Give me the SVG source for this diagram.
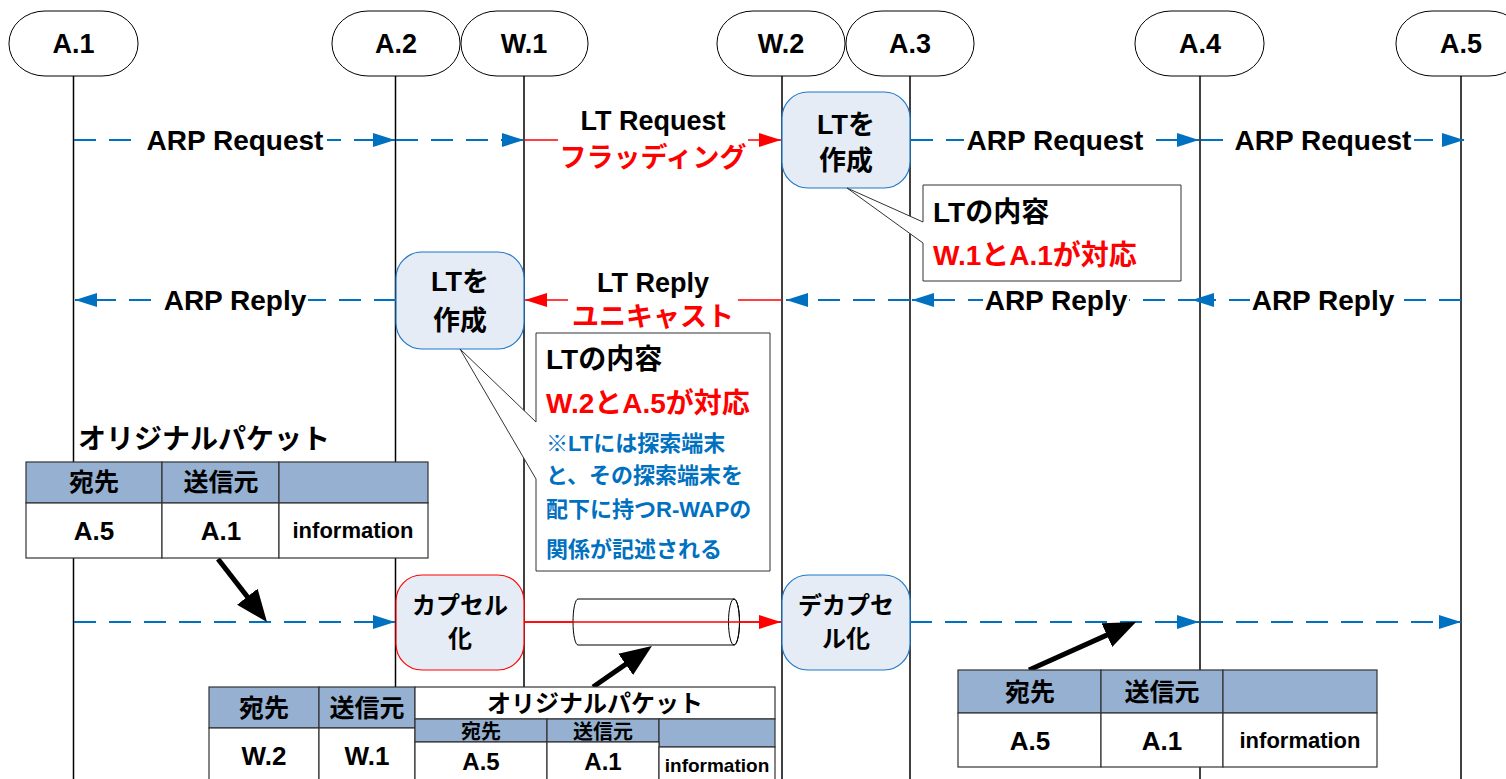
<svg xmlns="http://www.w3.org/2000/svg" width="1506" height="779" viewBox="0 0 1506 779">
<style>
.life{stroke:#000;stroke-width:1.5}
.hdr{fill:#fff;stroke:#000;stroke-width:1}
.t{font-family:'Liberation Sans','Noto Sans CJK JP',sans-serif;font-weight:bold;fill:#000}
.c{text-anchor:middle}
.bd{stroke:#0070c0;stroke-width:2;stroke-dasharray:22 13;fill:none}
.rd{stroke:#ff0000;stroke-width:1.6;fill:none}
.bk{stroke:#000;stroke-width:5;fill:none}
.bg{fill:#fff}
.lt{fill:#e5ecf6;stroke:#1f78c8;stroke-width:1.2}
.ltr{fill:#e5ecf6;stroke:#ff0000;stroke-width:1.2}
.co{fill:#fff;stroke:#333;stroke-width:1}
.th{fill:#95b0d0;stroke:#333;stroke-width:1.2}
.td{fill:#fff;stroke:#333;stroke-width:1.2}
.red{fill:#ff0000}
.blu{fill:#0070c0}
</style>
<defs>
<marker id="ab" markerUnits="userSpaceOnUse" markerWidth="22" markerHeight="14" refX="22" refY="7" orient="auto"><path d="M0,0 L22,7 L0,14 z" fill="#0070c0"/></marker>
<marker id="ar" markerUnits="userSpaceOnUse" markerWidth="22" markerHeight="14" refX="22" refY="7" orient="auto"><path d="M0,0 L22,7 L0,14 z" fill="#ff0000"/></marker>
<marker id="ak" markerUnits="userSpaceOnUse" markerWidth="32" markerHeight="26" refX="20" refY="13" orient="auto"><path d="M0,0 L32,13 L0,26 z" fill="#000"/></marker>
</defs>
<rect width="1506" height="779" fill="#fff"/>

<g id="lifelines">
<line class="life" x1="73.5" y1="76" x2="73.5" y2="779"/>
<line class="life" x1="395.5" y1="76" x2="395.5" y2="779"/>
<line class="life" x1="524" y1="76" x2="524" y2="779"/>
<line class="life" x1="782" y1="76" x2="782" y2="779"/>
<line class="life" x1="910" y1="76" x2="910" y2="779"/>
<line class="life" x1="1200" y1="76" x2="1200" y2="779"/>
<line class="life" x1="1461" y1="76" x2="1461" y2="779"/>
</g>

<g id="hdr-A1"><rect class="hdr" x="9" y="11" width="129" height="65" rx="36" ry="32"/><text class="t c" x="73.5" y="53" font-size="27">A.1</text></g>
<g id="hdr-A2"><rect class="hdr" x="332" y="11" width="128" height="65" rx="36" ry="32"/><text class="t c" x="396" y="53" font-size="27">A.2</text></g>
<g id="hdr-W1"><rect class="hdr" x="461" y="11" width="127" height="65" rx="36" ry="32"/><text class="t c" x="524" y="53" font-size="27">W.1</text></g>
<g id="hdr-W2"><rect class="hdr" x="717" y="11" width="128" height="65" rx="36" ry="32"/><text class="t c" x="781" y="53" font-size="27">W.2</text></g>
<g id="hdr-A3"><rect class="hdr" x="846" y="11" width="128" height="65" rx="36" ry="32"/><text class="t c" x="910" y="53" font-size="27">A.3</text></g>
<g id="hdr-A4"><rect class="hdr" x="1135" y="11" width="129" height="65" rx="36" ry="32"/><text class="t c" x="1200" y="53" font-size="27">A.4</text></g>
<g id="hdr-A5"><rect class="hdr" x="1396" y="11" width="129" height="65" rx="36" ry="32"/><text class="t c" x="1461" y="53" font-size="27">A.5</text></g>

<g id="connectors">
<!-- row 1 -->
<line class="bd" x1="74" y1="140" x2="395" y2="140" marker-end="url(#ab)"/>
<rect class="bg" x="143" y="125" width="184" height="32"/>
<text class="t c" x="235" y="150" font-size="28">ARP Request</text>
<line class="bd" x1="396" y1="140" x2="524" y2="140" marker-end="url(#ab)"/>
<line class="rd" x1="524" y1="140" x2="781" y2="140" marker-end="url(#ar)"/>
<rect class="bg" x="558" y="106" width="190" height="68"/>
<text class="t c" x="653" y="130" font-size="27">LT Request</text>
<text class="t c red" x="653" y="167" font-size="27">フラッディング</text>
<line class="bd" x1="911" y1="140" x2="1199" y2="140" marker-end="url(#ab)"/>
<rect class="bg" x="964" y="125" width="182" height="32"/>
<text class="t c" x="1055" y="150" font-size="28">ARP Request</text>
<line class="bd" x1="1201" y1="140" x2="1464" y2="140" marker-end="url(#ab)"/>
<rect class="bg" x="1232" y="125" width="182" height="32"/>
<text class="t c" x="1323" y="150" font-size="28">ARP Request</text>
<!-- row 2 -->
<line class="bd" x1="1461" y1="300" x2="1192" y2="300" marker-end="url(#ab)"/>
<rect class="bg" x="1250" y="284" width="146" height="32"/>
<text class="t c" x="1323" y="310" font-size="28">ARP Reply</text>
<line class="bd" x1="1200" y1="300" x2="912" y2="300" marker-end="url(#ab)"/>
<rect class="bg" x="983" y="284" width="146" height="32"/>
<text class="t c" x="1056" y="310" font-size="28">ARP Reply</text>
<line class="bd" x1="910" y1="300" x2="786" y2="300" marker-end="url(#ab)"/>
<line class="rd" x1="782" y1="300" x2="525" y2="300" marker-end="url(#ar)"/>
<rect class="bg" x="568" y="262" width="170" height="69"/>
<text class="t c" x="653" y="292" font-size="27">LT Reply</text>
<text class="t c red" x="653" y="326" font-size="27">ユニキャスト</text>
<line class="bd" x1="396" y1="300" x2="75" y2="300" marker-end="url(#ab)"/>
<rect class="bg" x="162" y="284" width="146" height="32"/>
<text class="t c" x="235" y="310" font-size="28">ARP Reply</text>
<!-- row 3 -->
<line class="bd" x1="74" y1="622" x2="395" y2="622" marker-end="url(#ab)"/>
<line class="rd" x1="524" y1="622" x2="781" y2="622"/>
<line class="bd" x1="910" y1="622" x2="1199" y2="622" marker-end="url(#ab)"/>
<line class="bd" x1="1201" y1="622" x2="1461" y2="622" marker-end="url(#ab)"/>
<!-- black pointer arrows -->
<line class="bk" x1="218" y1="559" x2="259.6" y2="612.5" marker-end="url(#ak)"/>
<line class="bk" x1="593" y1="687" x2="642.1" y2="652.9" marker-end="url(#ak)"/>
<line class="bk" x1="1029" y1="670" x2="1125.1" y2="626.9" marker-end="url(#ak)"/>
</g>

<g id="tunnel">
<path d="M578,599 A5,23 0 0 0 578,645 L734,645 A5.5,23 0 0 0 734,599 Z" fill="#fff" stroke="#000" stroke-width="1"/>
<ellipse cx="734" cy="622" rx="5.5" ry="23" fill="none" stroke="#000" stroke-width="1"/>
<line class="rd" x1="524" y1="622" x2="781" y2="622" marker-end="url(#ar)"/>
</g>

<g id="lt-w2">
<rect class="lt" x="782" y="92" width="128" height="96" rx="26"/>
<text class="t c" x="846" y="134" font-size="27">LTを</text>
<text class="t c" x="846" y="170" font-size="27">作成</text>
</g>
<g id="lt-a2">
<rect class="lt" x="396" y="252" width="128" height="97" rx="26"/>
<text class="t c" x="460" y="291" font-size="27">LTを</text>
<text class="t c" x="460" y="330" font-size="27">作成</text>
</g>
<g id="encap">
<rect class="ltr" x="396" y="575" width="128" height="95" rx="26"/>
<text class="t c" x="460" y="614" font-size="24">カプセル</text>
<text class="t c" x="460" y="647" font-size="24">化</text>
</g>
<g id="decap">
<rect class="lt" x="782" y="575" width="128" height="95" rx="26"/>
<text class="t c" x="846" y="614" font-size="24">デカプセ</text>
<text class="t c" x="846" y="647" font-size="24">ル化</text>
</g>

<g id="note1">
<path class="co" d="M923,185 H1181 V281 H923 V243 L847,188 L923,222 Z"/>
<text class="t" x="933" y="222" font-size="28">LTの内容</text>
<text class="t red" x="933" y="265" font-size="28">W.1とA.1が対応</text>
</g>
<g id="note2">
<path class="co" d="M536,333 H770 V571 H536 V479 L460,349 L536,422 Z"/>
<text class="t" x="546" y="369" font-size="28">LTの内容</text>
<text class="t red" x="546" y="413" font-size="28">W.2とA.5が対応</text>
<text class="t blu" x="546" y="451" font-size="22">※LTには探索端末</text>
<text class="t blu" x="546" y="483" font-size="22">と、その探索端末を</text>
<text class="t blu" x="546" y="517" font-size="22">配下に持つR-WAPの</text>
<text class="t blu" x="546" y="557" font-size="22">関係が記述される</text>
</g>

<g id="packet-original">
<text class="t" x="78" y="449" font-size="28">オリジナルパケット</text>
<rect class="th" x="26" y="462" width="136" height="41"/>
<rect class="th" x="162" y="462" width="117" height="41"/>
<rect class="th" x="279" y="462" width="149" height="41"/>
<rect class="td" x="26" y="503" width="136" height="55"/>
<rect class="td" x="162" y="503" width="117" height="55"/>
<rect class="td" x="279" y="503" width="149" height="55"/>
<text class="t c" x="94" y="491" font-size="25">宛先</text>
<text class="t c" x="221" y="491" font-size="25">送信元</text>
<text class="t c" x="94" y="540" font-size="26">A.5</text>
<text class="t c" x="221" y="540" font-size="26">A.1</text>
<text class="t c" x="353" y="538" font-size="22">information</text>
</g>

<g id="packet-encapsulated">
<rect class="th" x="209" y="687" width="110" height="41"/>
<rect class="th" x="319" y="687" width="96" height="41"/>
<rect class="td" x="209" y="728" width="110" height="62"/>
<rect class="td" x="319" y="728" width="96" height="62"/>
<text class="t c" x="264" y="717" font-size="25">宛先</text>
<text class="t c" x="367" y="717" font-size="25">送信元</text>
<text class="t c" x="264" y="765" font-size="26">W.2</text>
<text class="t c" x="367" y="765" font-size="26">W.1</text>
<rect class="td" x="415" y="687" width="360" height="32"/>
<text class="t c" x="595" y="712" font-size="24">オリジナルパケット</text>
<rect class="th" x="415" y="719" width="132" height="23"/>
<rect class="th" x="547" y="719" width="112" height="23"/>
<rect class="th" x="659" y="719" width="116" height="28"/>
<rect class="td" x="415" y="742" width="132" height="48"/>
<rect class="td" x="547" y="742" width="112" height="48"/>
<rect class="td" x="659" y="747" width="116" height="43"/>
<text class="t c" x="481" y="739" font-size="20">宛先</text>
<text class="t c" x="603" y="739" font-size="20">送信元</text>
<text class="t c" x="481" y="770" font-size="24">A.5</text>
<text class="t c" x="603" y="770" font-size="24">A.1</text>
<text class="t c" x="717" y="772" font-size="19">information</text>
</g>

<g id="packet-decapsulated">
<rect class="th" x="958" y="670" width="143" height="43"/>
<rect class="th" x="1101" y="670" width="122" height="43"/>
<rect class="th" x="1223" y="670" width="154" height="43"/>
<rect class="td" x="958" y="713" width="143" height="54"/>
<rect class="td" x="1101" y="713" width="122" height="54"/>
<rect class="td" x="1223" y="713" width="154" height="54"/>
<text class="t c" x="1030" y="701" font-size="25">宛先</text>
<text class="t c" x="1162" y="701" font-size="25">送信元</text>
<text class="t c" x="1030" y="750" font-size="26">A.5</text>
<text class="t c" x="1162" y="750" font-size="26">A.1</text>
<text class="t c" x="1300" y="748" font-size="22">information</text>
</g>
</svg>
